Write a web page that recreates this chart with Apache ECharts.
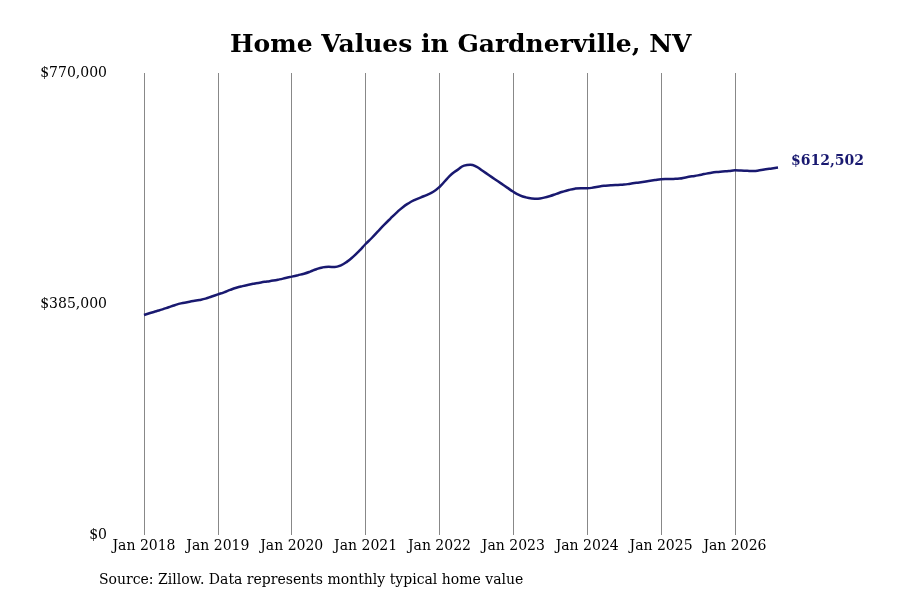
<!DOCTYPE html>
<html>
<head>
<meta charset="utf-8">
<script src="https://cdn.jsdelivr.net/npm/echarts@6/dist/echarts.min.js"></script>
<style>
  html, body { margin: 0; padding: 0; background: #fff; }
  #chart { width: 900px; height: 600px; }
</style>
</head>
<body>
<div id="chart"></div>
<script>
'use strict';
// typical home value, monthly, Jan 2018 .. Aug 2026 (in $k)
const years = [2018, 2019, 2020, 2021, 2022, 2023, 2024, 2025, 2026];
const monthNames = ['Jan', 'Feb', 'Mar', 'Apr', 'May', 'Jun', 'Jul', 'Aug', 'Sep', 'Oct', 'Nov', 'Dec'];

const values2018 = [366.7, 370, 373, 376, 379.5, 383, 386, 388, 390, 391.7, 394, 397.5];
const values2019 = [401, 404.5, 408.5, 412, 414.8, 417.2, 419.2, 421, 422.5, 424, 426, 428.3];
const values2020 = [430.6, 433, 435.5, 438.9, 443, 446, 447, 446.7, 449.5, 455.6, 464, 474];
const values2021 = [485, 495, 506, 516.7, 527, 537, 546, 553, 558.5, 562.8, 567, 572];
const values2022 = [580, 591, 601.7, 609, 615.6, 617.2, 613.9, 607, 600, 593, 586, 579];
const values2023 = [572, 566.5, 562.8, 561, 560.6, 562.3, 565, 568.5, 572, 575, 577.2, 578];
const values2024 = [578, 579, 581, 582.2, 583, 583.5, 584, 585.5, 587, 588.3, 590, 591.5];
const values2025 = [592.8, 593.3, 593.5, 594, 596, 597.8, 599.4, 601.5, 603.5, 605, 605.8, 606.5];
const values2026 = [607.8, 607.5, 607, 606.7, 607.8, 609.5, 611, 612.502];

const yTicks = [0, 385000, 770000];

const allValues = [].concat(values2018, values2019, values2020, values2021, values2022,
  values2023, values2024, values2025, values2026).map(v => Math.round(v * 1000));

let months = [];
for (let i = 0; i < allValues.length; i++) {
  months.push(monthNames[i % 12] + ' ' + years[Math.floor(i / 12)]);
}

function money(v) {
  return '$' + v.toLocaleString('en-US');
}

const serif = '"DejaVu Serif", serif';
const showYearStart = (idx) => idx % 12 === 0;

var chart = echarts.init(document.getElementById('chart'));
var option = {
  animation: false,
  backgroundColor: '#fff',
  title: {
    text: 'Home Values in Gardnerville, NV',
    left: 225,
    top: 28,
    textStyle: { fontFamily: serif, fontWeight: 'bold', fontSize: 25, color: '#000' }
  },
  grid: { left: 144, right: 122, top: 73, bottom: 65 },
  xAxis: {
    type: 'category',
    data: months,
    boundaryGap: false,
    axisLine: { show: false },
    axisTick: { show: false },
    axisLabel: {
      interval: showYearStart,
      margin: 4,
      fontFamily: serif, fontSize: 14, color: '#000'
    },
    splitLine: {
      show: true,
      interval: showYearStart,
      lineStyle: { color: '#888', width: 1 }
    }
  },
  yAxis: {
    type: 'value',
    min: yTicks[0],
    max: yTicks[yTicks.length - 1],
    interval: yTicks[1] - yTicks[0],
    axisLine: { show: false },
    axisTick: { show: false },
    splitLine: { show: false },
    axisLabel: {
      margin: 37,
      fontFamily: serif, fontSize: 14, color: '#000',
      formatter: money
    }
  },
  series: [{
    type: 'line',
    data: allValues,
    smooth: true,
    showSymbol: false,
    lineStyle: { color: '#191970', width: 2.5 },
    endLabel: {
      show: true,
      distance: 13,
      offset: [0, -6],
      formatter: (p) => money(p.value),
      fontFamily: serif, fontWeight: 'bold', fontSize: 14, color: '#191970'
    }
  }],
  graphic: [{
    type: 'text',
    left: 99,
    top: 573,
    style: {
      text: 'Source: Zillow. Data represents monthly typical home value',
      font: '14px ' + serif,
      fill: '#000'
    }
  }]
};
chart.setOption(option);
</script>
</body>
</html>
